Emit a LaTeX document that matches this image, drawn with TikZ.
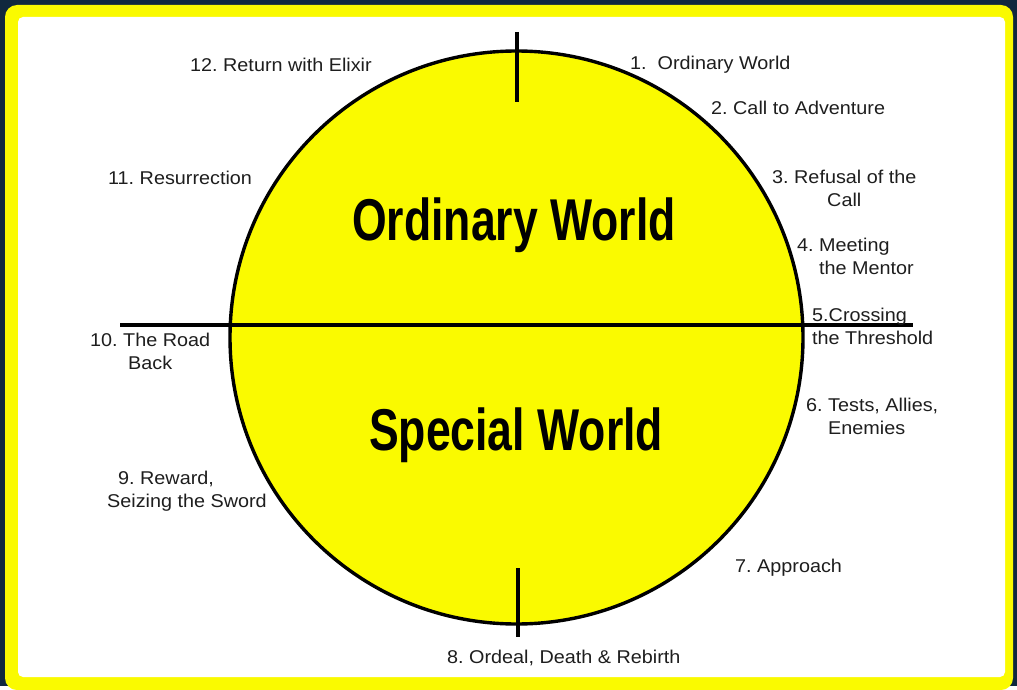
\documentclass[tikz,border=0pt]{standalone}
\usepackage{fontspec}
\setmainfont{Liberation Sans}[FakeStretch=1.07]
\usetikzlibrary{positioning}
\definecolor{deepsea}{RGB}{16,40,62}
\definecolor{sunyellow}{RGB}{250,250,0}
\definecolor{inkgrey}{RGB}{30,30,30}
\begin{document}
\frenchspacing
\begin{tikzpicture}[x=1pt,y=-1pt,
  stage/.style={font=\fontsize{18.5}{22.5}\selectfont, text=inkgrey, inner sep=0pt},
  world/.style={font=\bfseries\fontsize{59}{60}\selectfont, inner sep=0pt},
  rim/.style={line width=3.4pt}]
% frame
\fill[deepsea] (0,0) rectangle (1017,686);
\fill[sunyellow, rounded corners=12pt] (5,5) rectangle (1013,690);
\fill[white, rounded corners=5pt] (18,17) rectangle (1005,677);
% the circle
\node[draw, circle, rim, fill=sunyellow, minimum size=573pt, inner sep=0pt] (wheel) at (516.5,337.5) {};
\coordinate (tTop) at (517,32);
\coordinate (tTopIn) at (517,102);
\coordinate (tBot) at (518,568);
\coordinate (tBotOut) at (518,637);
\coordinate (hLeft) at (120,325);
\coordinate (hRight) at (913,325);
\draw[rim] (hLeft) -- (hRight);
\draw[rim] (tTop) -- (tTopIn);
\draw[rim] (tBot) -- (tBotOut);
\node[world] (ordw) at (514,225) {\scalebox{0.706}[1]{Ordinary World}};
\node[world] (specw) at (516,435) {\scalebox{0.706}[1]{Special World}};
% stages
\node[stage, anchor=base west] (s1) at (630,70) {1.\ \ Ordinary World};
\node[stage, anchor=base west] (s2) at (711,114.5) {2. Call to Adventure};
\node[stage, align=center, anchor=north west] (s3) at (772,170) {3. Refusal of the\\Call};
\node[stage, align=left, anchor=north west] (s4) at (797,238) {4. Meeting\\\phantom{4. }the Mentor};
\node[stage, align=left, anchor=north west] (s5) at (812,308) {5.Crossing\\the Threshold};
\node[stage, align=left, anchor=north west] (s6) at (806,398) {6. Tests, Allies,\\\phantom{6. }Enemies};
\node[stage, anchor=base west] (s7) at (735,572.5) {7. Approach};
\node[stage, anchor=base west] (s8) at (447,663) {8. Ordeal, Death \& Rebirth};
\node[stage, align=left, anchor=north west] (s9) at (107,471) {\hspace*{11pt}9. Reward,\\Seizing the Sword};
\node[stage, align=center, anchor=north west] (s10) at (90,333) {10. The Road\\Back};
\node[stage, anchor=base west] (s11) at (108,184.5) {11. Resurrection};
\node[stage, anchor=base west] (s12) at (190,71.5) {12. Return with Elixir};
\end{tikzpicture}
\end{document}
